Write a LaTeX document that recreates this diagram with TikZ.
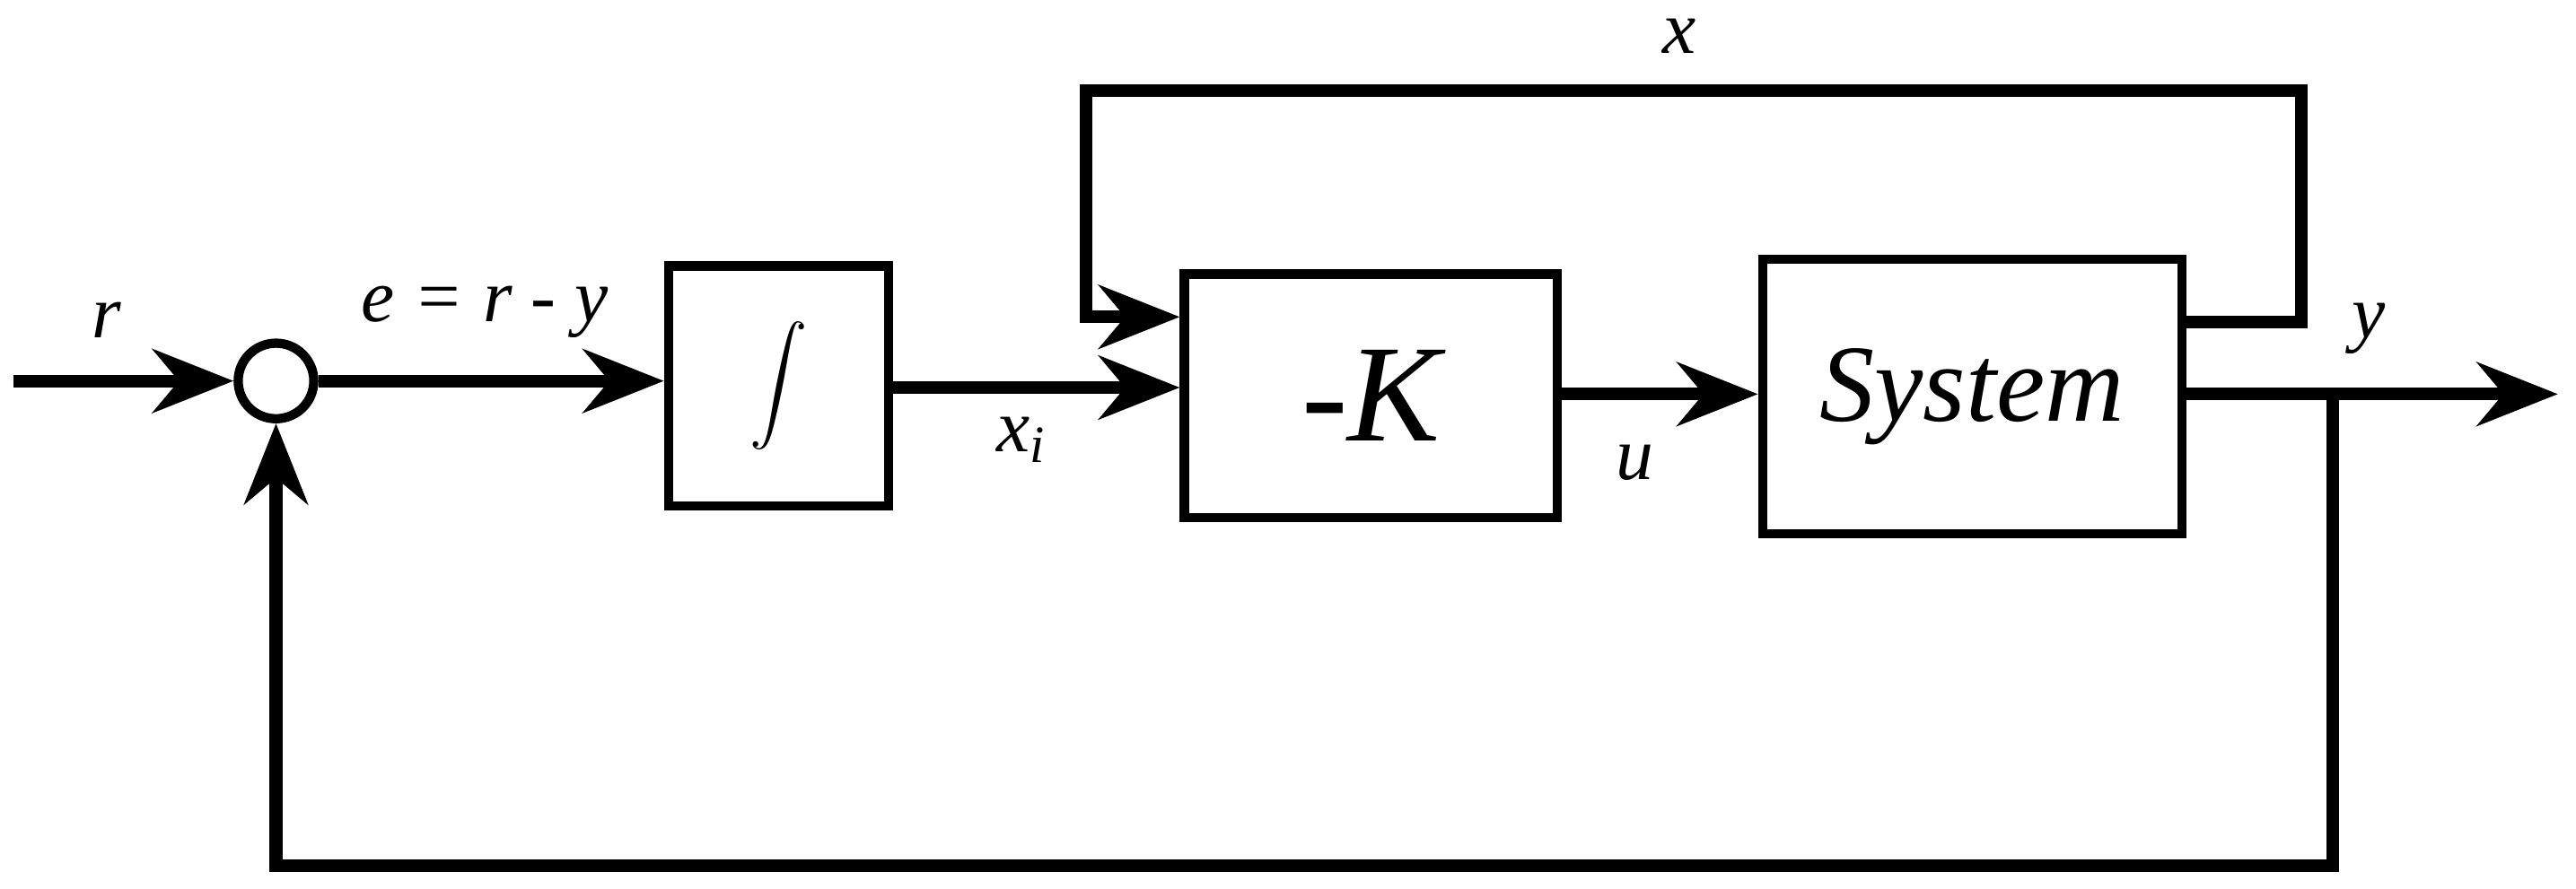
\documentclass[tikz,border=0pt]{standalone}
\usepackage{fontspec}
\setmainfont{Liberation Serif}
\usetikzlibrary{arrows.meta}
\begin{document}
\begin{tikzpicture}[x=0.01cm,y=-0.01cm,
  blk/.style={draw,line width=1.6pt,inner sep=0pt},
  wire/.style={line width=2.2pt},
  arr/.style={wire,-{Stealth[length=14pt,width=11pt]}},
  lbl/.style={font=\itshape\fontsize{13}{15}\selectfont}]
\useasboundingbox (0,0) rectangle (1568,541);
\node[draw,circle,line width=1.6pt,minimum size=0.46cm,inner sep=0pt] (s) at (168,232) {};
\node[blk,minimum width=1.34cm,minimum height=1.46cm] (int) at (474,235) {\fontsize{30}{30}\selectfont$\displaystyle\int$};
\node[blk,minimum width=2.27cm,minimum height=1.48cm] (k) at (834.5,241) {\itshape\fontsize{24}{28}\selectfont -K};
\node[blk,minimum width=2.55cm,minimum height=1.67cm] (sys) at (1200.5,241.5) {\itshape\fontsize{19}{22}\selectfont System};
\coordinate (in) at (8,232);
\coordinate (out) at (1557,240);
\coordinate (br) at (1420,240);
\draw[arr] (in) -- (s.west);
\draw[arr] (s.east) -- (int.west |- s.east);
\draw[arr] (541,236) -- (k.west |- 0,236);
\draw[arr] (948,240) -- (sys.west |- 0,240);
\draw[wire] (sys.east |- 0,240) -- (br);
\draw[arr] (br) -- (out);
\draw[arr] (br) -- (1420,527) -- (168,527) -- (s.south);
\draw[arr] (sys.east |- 0,196) -- (1401,196) -- (1401,55) -- (661,55) -- (661,193) -- (k.west |- 0,193);
\node[lbl] (lr) at (65,195) {r};
\node[lbl] (le) at (295,190) {e = r - y};
\node[lbl] (lxi) at (622,268) {x\textsubscript{\itshape i}};
\node[lbl] (lu) at (995,282) {u};
\node[lbl] (lx) at (1022,22) {x};
\node[lbl] (ly) at (1442,200) {y};
\end{tikzpicture}
\end{document}
